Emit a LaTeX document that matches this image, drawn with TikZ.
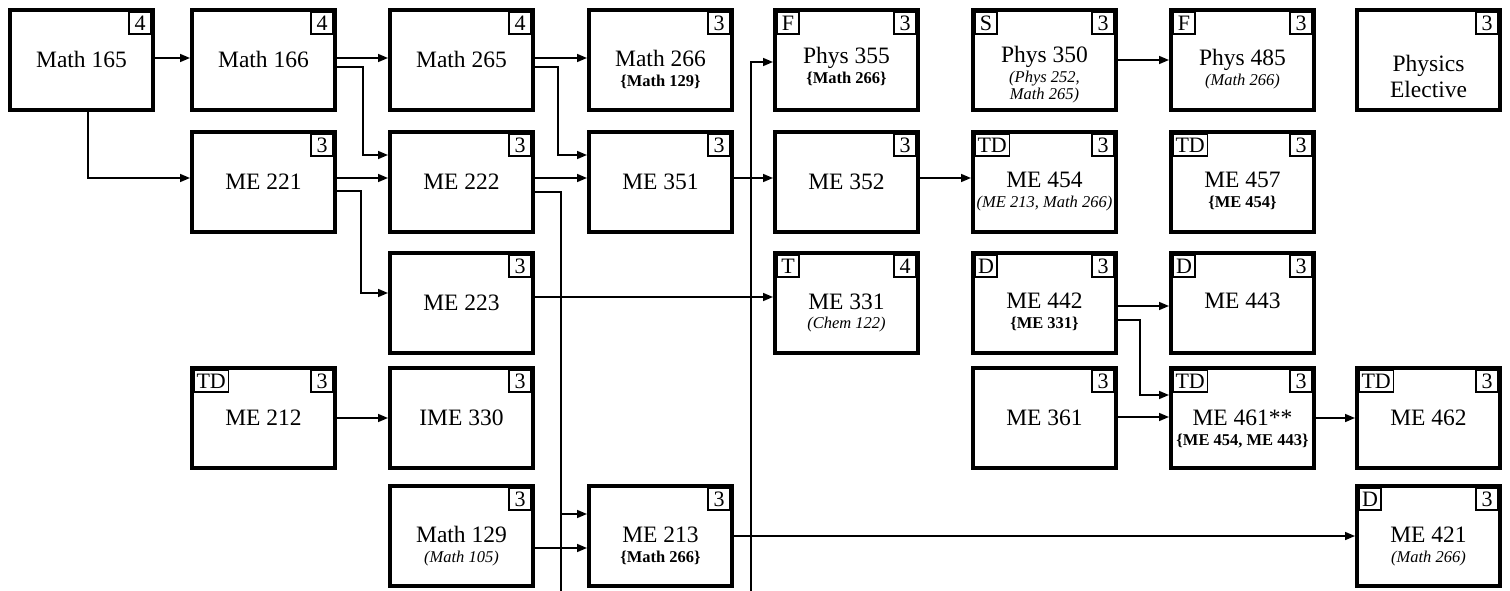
\documentclass[tikz,border=0pt]{standalone}
\usepackage{fontspec}
\setmainfont{Liberation Serif}
\usetikzlibrary{arrows.meta}
\newcommand\fmain{\fontsize{23.5}{26}\selectfont}
\newcommand\fsub{\fontsize{16.5}{18}\selectfont}
\newcommand\fsmall{\fontsize{22}{24}\selectfont}
\newcommand\course[4]{%
  \node[cbox] (#1) at ({#2+73.5},{#3+52}) {};
  \node[credit,anchor=north east] (#1-cr) at ([xshift=-4pt,yshift=-4pt]#1.north east) {#4};}
\newcommand\tagb[2]{\node[tagbox,anchor=north west] (#1-tg) at ([xshift=4pt,yshift=-4pt]#1.north west) {#2};}
\newcommand\txt[4]{\node[#2,anchor=base] (#1-#3) at ([yshift=-#3pt]#1.north) {#4};}
\begin{document}
\begin{tikzpicture}[x=1pt,y=-1pt,
  cbox/.style={draw,line width=4pt,minimum width=143pt,minimum height=100pt,inner sep=0pt,outer sep=2pt},
  credit/.style={draw,line width=1.2pt,minimum width=22pt,minimum height=22pt,inner sep=0pt,outer sep=0pt,font=\fsmall},
  tagbox/.style={draw,line width=1.2pt,minimum width=22pt,minimum height=22pt,inner xsep=2.5pt,inner ysep=0pt,outer sep=0pt,font=\fsmall},
  mainlbl/.style={inner sep=0pt,font=\fmain},
  bsub/.style={inner sep=0pt,font=\fsub\bfseries},
  isub/.style={inner sep=0pt,font=\fsub\itshape},
  conn/.style={line width=1.6pt},
  arr/.style={conn,-{Triangle[length=10pt,width=8pt]}}]
\useasboundingbox (0,0) rectangle (1510,590);
% row 1
\course{m165}{8}{8}{4}\txt{m165}{mainlbl}{59}{Math 165}
\course{m166}{190}{8}{4}\txt{m166}{mainlbl}{59}{Math 166}
\course{m265}{388}{8}{4}\txt{m265}{mainlbl}{59}{Math 265}
\course{m266}{587}{8}{3}\txt{m266}{mainlbl}{58}{Math 266}\txt{m266}{bsub}{78}{\{Math 129\}}
\course{p355}{773}{8}{3}\tagb{p355}{F}\txt{p355}{mainlbl}{55}{Phys 355}\txt{p355}{bsub}{75}{\{Math 266\}}
\course{p350}{971}{8}{3}\tagb{p350}{S}\txt{p350}{mainlbl}{54}{Phys 350}\txt{p350}{isub}{74}{(Phys 252,}\txt{p350}{isub}{91}{Math 265)}
\course{p485}{1169}{8}{3}\tagb{p485}{F}\txt{p485}{mainlbl}{57}{Phys 485}\txt{p485}{isub}{77}{(Math 266)}
\course{pel}{1355}{8}{3}\txt{pel}{mainlbl}{63}{Physics}\txt{pel}{mainlbl}{89}{Elective}
% row 2
\course{me221}{190}{130}{3}\txt{me221}{mainlbl}{59}{ME 221}
\course{me222}{388}{130}{3}\txt{me222}{mainlbl}{59}{ME 222}
\course{me351}{587}{130}{3}\txt{me351}{mainlbl}{59}{ME 351}
\course{me352}{773}{130}{3}\txt{me352}{mainlbl}{59}{ME 352}
\course{me454}{971}{130}{3}\tagb{me454}{TD}\txt{me454}{mainlbl}{57}{ME 454}\txt{me454}{isub}{77}{(ME 213, Math 266)}
\course{me457}{1169}{130}{3}\tagb{me457}{TD}\txt{me457}{mainlbl}{57}{ME 457}\txt{me457}{bsub}{77}{\{ME 454\}}
% row 3
\course{me223}{388}{251}{3}\txt{me223}{mainlbl}{59}{ME 223}
\course{me331}{773}{251}{4}\tagb{me331}{T}\txt{me331}{mainlbl}{58}{ME 331}\txt{me331}{isub}{77}{(Chem 122)}
\course{me442}{971}{251}{3}\tagb{me442}{D}\txt{me442}{mainlbl}{57}{ME 442}\txt{me442}{bsub}{77}{\{ME 331\}}
\course{me443}{1169}{251}{3}\tagb{me443}{D}\txt{me443}{mainlbl}{57}{ME 443}
% row 4
\course{me212}{190}{366}{3}\tagb{me212}{TD}\txt{me212}{mainlbl}{59}{ME 212}
\course{ime330}{388}{366}{3}\txt{ime330}{mainlbl}{59}{IME 330}
\course{me361}{971}{366}{3}\txt{me361}{mainlbl}{59}{ME 361}
\course{me461}{1169}{366}{3}\tagb{me461}{TD}\txt{me461}{mainlbl}{59}{ME 461**}\txt{me461}{bsub}{79}{\{ME 454, ME 443\}}
\course{me462}{1355}{366}{3}\tagb{me462}{TD}\txt{me462}{mainlbl}{59}{ME 462}
% row 5
\course{m129}{388}{484}{3}\txt{m129}{mainlbl}{58}{Math 129}\txt{m129}{isub}{78}{(Math 105)}
\course{me213}{587}{484}{3}\txt{me213}{mainlbl}{58}{ME 213}\txt{me213}{bsub}{78}{\{Math 266\}}
\course{me421}{1355}{484}{3}\tagb{me421}{D}\txt{me421}{mainlbl}{58}{ME 421}\txt{me421}{isub}{78}{(Math 266)}
% connectors
\draw[arr] ([yshift=2pt]m165.east) -- ([yshift=2pt]m166.west);
\draw[arr] ([xshift=6.5pt]m165.south) |- ([yshift=4pt]me221.west);
\draw[arr] ([yshift=2pt]m166.east) -- ([yshift=2pt]m265.west);
\draw[arr] ([yshift=-7pt]m166.east) -- ++(26,0) |- ([yshift=27pt]me222.west);
\draw[arr] ([yshift=4pt]me221.east) -- ([yshift=4pt]me222.west);
\draw[arr] ([yshift=-9pt]me221.east) -- ++(24,0) |- ([yshift=10pt]me223.west);
\draw[arr] ([yshift=2pt]m265.east) -- ([yshift=2pt]m266.west);
\draw[arr] ([yshift=-7pt]m265.east) -- ++(23,0) |- ([yshift=27pt]me351.west);
\draw[arr] ([yshift=4pt]me222.east) -- ([yshift=4pt]me351.west);
\coordinate (v1) at (561,595);
\draw[conn] ([yshift=-10pt]me222.east) -| (v1);
\coordinate (e213a) at ([yshift=22pt]me213.west);
\draw[arr] (e213a -| v1) -- (e213a);
\draw[arr] ([yshift=4pt]me351.east) -- ([yshift=4pt]me352.west);
\coordinate (v2) at (751,595);
\draw[arr] (v2) |- ([yshift=-2pt]p355.west);
\draw[arr] ([yshift=4pt]me352.east) -- ([yshift=4pt]me454.west);
\draw[arr] ([yshift=6pt]me223.east) -- ([yshift=6pt]me331.west);
\draw[arr] (p350.east) -- (p485.west);
\draw[arr] ([yshift=-3pt]me442.east) -- ([yshift=-3pt]me443.west);
\draw[arr] ([yshift=-17pt]me442.east) -- ++(22,0) |- ([yshift=23pt]me461.west);
\draw[arr] ([yshift=1pt]me361.east) -- ([yshift=1pt]me461.west);
\draw[arr] (me461.east) -- (me462.west);
\draw[arr] (me212.east) -- (ime330.west);
\draw[arr] ([yshift=-12pt]m129.east) -- ([yshift=-12pt]me213.west);
\draw[arr] (me213.east) -- (me421.west);
\end{tikzpicture}
\end{document}
